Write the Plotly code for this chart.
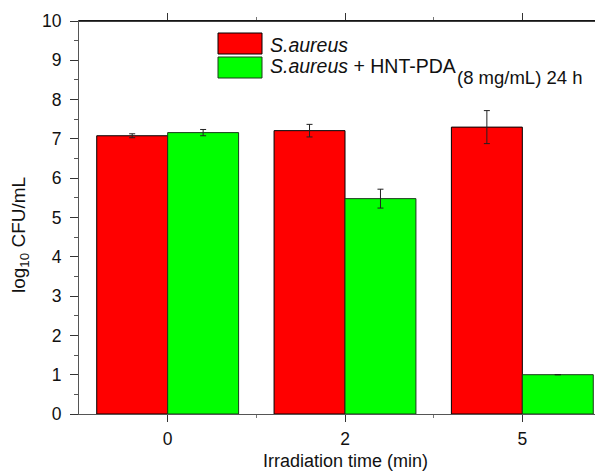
import plotly.graph_objects as go

categories = ["0", "2", "5"]
saureus = [7.08, 7.21, 7.30]
saureus_err = [0.05, 0.16, 0.42]
hnt = [7.16, 5.48, 1.0]
hnt_err = [0.08, 0.24, None]
yticks = list(range(0, 11))

xpos = list(range(len(categories)))
FONT = "Liberation Sans, Arial, sans-serif"

fig = go.Figure()
fig.add_trace(go.Bar(
    x=xpos, y=saureus, name="S.aureus",
    marker=dict(color="#ff0000", line=dict(color="#000000", width=1)),
    error_y=dict(type="data", array=saureus_err, color="#222222", thickness=1, width=3),
))
fig.add_trace(go.Bar(
    x=xpos, y=hnt, name="S.aureus + HNT-PDA",
    marker=dict(color="#00ff00", line=dict(color="#1a3a1a", width=1)),
    error_y=dict(type="data", array=hnt_err, color="#222222", thickness=1, width=3),
))

# page body offsets the figure by 8px; plot area spans screen x 79..611, y 21..414
fig.update_layout(
    width=603, height=474,
    margin=dict(l=71, r=0, t=13, b=68),
    paper_bgcolor="white", plot_bgcolor="white",
    barmode="group", bargap=0.2, bargroupgap=0,
    showlegend=False,
    font=dict(family=FONT, size=17, color="#111111"),
)
fig.update_xaxes(
    range=[-0.5, 2.5], tickmode="array", tickvals=xpos, ticktext=categories,
    showgrid=False, zeroline=False, showline=True, linecolor="#555555", linewidth=1,
    ticks="outside", ticklen=7, tickcolor="#333333", mirror="ticks",
    minor=dict(tickmode="array", tickvals=[0.5, 1.5], ticks="outside", ticklen=3, tickcolor="#777777"),
    tickfont=dict(size=17.5, color="#111111"), ticklabelstandoff=2,
)
fig.update_yaxes(
    range=[0, 10], tickmode="array", tickvals=yticks,
    showgrid=False, zeroline=False, showline=True, linecolor="#555555", linewidth=1,
    ticks="outside", ticklen=8, tickcolor="#333333",
    minor=dict(dtick=0.5, ticks="outside", ticklen=4, tickcolor="#555555"),
    tickfont=dict(size=17.5, color="#111111"), ticklabelstandoff=5,
)

# top frame line
fig.add_shape(type="line", xref="paper", yref="paper", x0=0, x1=1, y0=1, y1=1,
              line=dict(color="#000000", width=1.5))

# helpers: screen pixel -> paper coords
L, T, R, B = 79.0, 21.0, 611.0, 414.0
def px(xs):
    return (xs - L) / (R - L)
def py(ys):
    return (B - ys) / (B - T)

fig.add_shape(type="rect", xref="paper", yref="paper", x0=px(218), x1=px(262), y0=py(54), y1=py(33),
              fillcolor="#ff0000", line=dict(color="#000000", width=1))
fig.add_shape(type="rect", xref="paper", yref="paper", x0=px(218), x1=px(262), y0=py(78), y1=py(57),
              fillcolor="#00ff00", line=dict(color="#1a3a1a", width=1))
fig.add_annotation(xref="paper", yref="paper", x=px(268), y=py(45), xanchor="left", yanchor="middle",
                   text="<i>S.aureus</i>", showarrow=False, font=dict(size=19.5, color="#111111"))
fig.add_annotation(xref="paper", yref="paper", x=px(268), y=py(66), xanchor="left", yanchor="middle",
                   text="<i>S.aureus</i> + HNT-PDA", showarrow=False, font=dict(size=19.5, color="#111111"))
fig.add_annotation(xref="paper", yref="paper", x=px(455), y=py(77), xanchor="left", yanchor="middle",
                   text="(8 mg/mL) 24 h", showarrow=False, font=dict(size=18.5, color="#111111"))

# axis titles
fig.add_annotation(xref="paper", yref="paper", x=px(345), y=py(461), xanchor="center", yanchor="middle",
                   text="Irradiation time (min)", showarrow=False, font=dict(size=18, color="#111111"))
fig.add_annotation(xref="paper", yref="paper", x=px(20), y=py(235), xanchor="center", yanchor="middle",
                   text="log<sub>10</sub> CFU/mL", textangle=-90, showarrow=False,
                   font=dict(size=19, color="#111111"))

fig.write_html("out.html")
